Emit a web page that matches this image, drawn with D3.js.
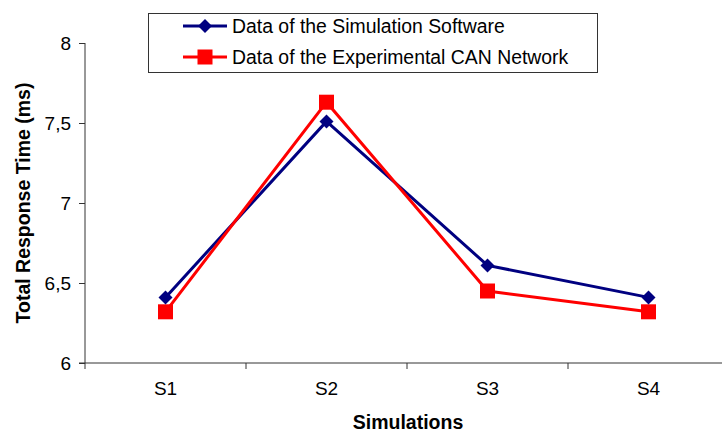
<!DOCTYPE html>
<html><head><meta charset="utf-8">
<script src="https://cdn.jsdelivr.net/npm/d3@7/dist/d3.min.js"></script>
<style>body{margin:0;background:#fff}svg{display:block}</style>
</head><body>
<script>
const categories = ["S1","S2","S3","S4"];
const simulation = [6.41, 7.51, 6.61, 6.41];
const experimental = [6.32, 7.63, 6.45, 6.32];
const yTicks = [6, 6.5, 7, 7.5, 8];
const seriesNames = ["Data of the Simulation Software","Data of the Experimental CAN Network"];

const W=722,H=434;
const svg=d3.select("body").append("svg").attr("width",W).attr("height",H);
const font="Liberation Sans, Arial, sans-serif";
const x=d3.scaleBand().domain(categories).range([85,729]);
const y=d3.scaleLinear().domain([6,8]).range([363,43]);

// y axis
const ya=svg.append("g").attr("transform","translate(85,0)")
  .call(d3.axisLeft(y).tickValues(yTicks).tickSize(6).tickPadding(8)
    .tickFormat(d=>String(d).replace(".",",")));
ya.select(".domain").attr("stroke","#333").attr("d","M0,43V363");
ya.selectAll(".tick line").attr("stroke","#333");
ya.selectAll("text").attr("font-family",font).attr("font-size",19).attr("fill","#000");

// x axis
const xa=svg.append("g").attr("transform","translate(0,363)")
  .call(d3.axisBottom(x).tickSize(0).tickPadding(0));
xa.select(".domain").attr("stroke","#333").attr("d","M79,0H722");
xa.selectAll("text").attr("font-family",font).attr("font-size",19).attr("fill","#000")
  .attr("dy",null).attr("y",32);
xa.selectAll(".tick line").remove();
svg.append("g").selectAll("line").data(categories).join("line")
  .attr("x1",d=>x(d)).attr("x2",d=>x(d)).attr("y1",363).attr("y2",369).attr("stroke","#333");

// titles
svg.append("text").attr("x",408).attr("y",429).attr("text-anchor","middle")
  .attr("font-family",font).attr("font-weight","bold").attr("font-size",19.5).text("Simulations");
svg.append("text").attr("transform","translate(30,203) rotate(-90)").attr("text-anchor","middle")
  .attr("font-family",font).attr("font-weight","bold").attr("font-size",19.5).text("Total Response Time (ms)");

const cx=d=>x(d)+x.bandwidth()/2;
const line=d3.line().x((d,i)=>cx(categories[i])).y(d=>y(d));
svg.append("path").datum(simulation).attr("d",line).attr("fill","none").attr("stroke","#000080").attr("stroke-width",3);
svg.append("path").datum(experimental).attr("d",line).attr("fill","none").attr("stroke","#ff0000").attr("stroke-width",3);

const diamond=(g,px,py)=>g.append("path").attr("d",`M${px},${py-7}L${px+7},${py}L${px},${py+7}L${px-7},${py}Z`).attr("fill","#000080");
const square=(g,px,py)=>g.append("rect").attr("x",px-7.5).attr("y",py-7.5).attr("width",15).attr("height",15).attr("fill","#ff0000");

const mk=svg.append("g");
experimental.forEach((v,i)=>square(mk,cx(categories[i]),y(v)));
simulation.forEach((v,i)=>diamond(mk,cx(categories[i]),y(v)));

// legend
const lg=svg.append("g");
lg.append("rect").attr("x",148.5).attr("y",13.5).attr("width",449).attr("height",59).attr("fill","#fff").attr("stroke","#333");
const rows=[26,57];
lg.append("line").attr("x1",183).attr("x2",227).attr("y1",rows[0]).attr("y2",rows[0]).attr("stroke","#000080").attr("stroke-width",3);
diamond(lg,205,rows[0]);
lg.append("line").attr("x1",183).attr("x2",227).attr("y1",rows[1]).attr("y2",rows[1]).attr("stroke","#ff0000").attr("stroke-width",3);
square(lg,205,rows[1]);
seriesNames.forEach((n,i)=>lg.append("text").attr("x",232).attr("y",rows[i]).attr("dy","0.35em")
  .attr("font-family",font).attr("font-size",19.4).text(n));
</script>
</body></html>
